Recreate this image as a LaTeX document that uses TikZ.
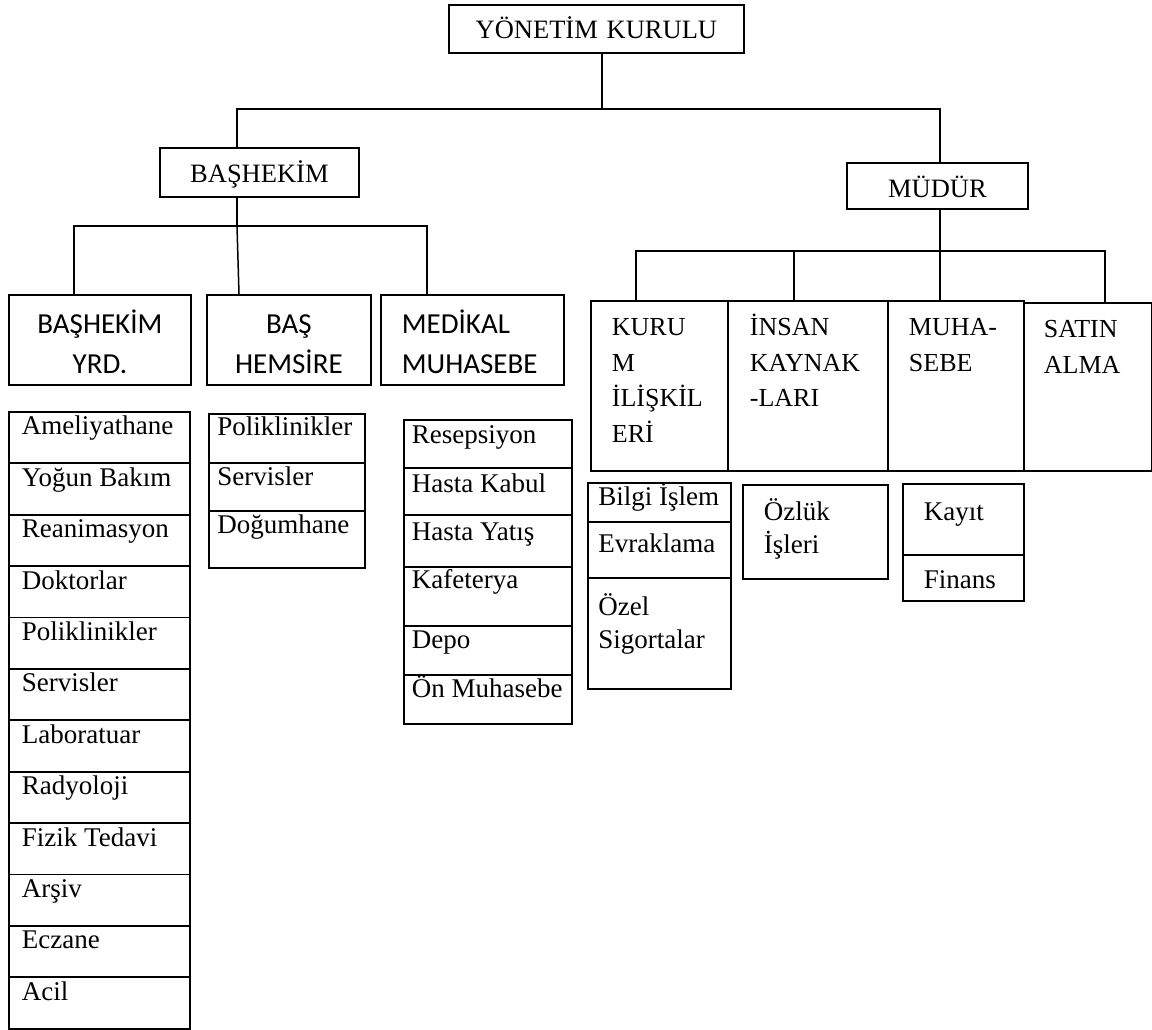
\documentclass[tikz,border=0pt]{standalone}
\usepackage{fontspec}
\setmainfont{Liberation Serif}
\newfontfamily\calfont{Carlito}
\usepackage{tikz}

\begin{document}
\begin{tikzpicture}[x=1pt,y=-1pt]
\tikzstyle{every node}+=[inner sep=0pt, anchor=north west]
\tikzstyle{box}=[draw, line width=1.8pt]
\tikzstyle{ttl}=[box, align=center, font=\fontsize{26.5}{32}\selectfont]
\tikzstyle{cal}=[box, font=\calfont\fontsize{29}{40}\selectfont]
\tikzstyle{mtn}=[box, align=flush left, font=\fontsize{26}{35.5}\selectfont]
\tikzstyle{lst}=[box, align=flush left, font=\fontsize{27}{33}\selectfont]
\tikzstyle{con}=[line width=1.5pt]
\useasboundingbox (0,0) rectangle (1152,1029);
\node [ttl, text width=295pt, text height=34pt, text depth=14pt] (yk) at (448,4) {YÖNETİM KURULU};
\node [ttl, text width=199pt, text height=35pt, text depth=14pt] (bh) at (159,147) {BAŞHEKİM};
\node [ttl, text width=181pt, text height=35pt, text depth=11pt] (mu) at (846,162) {MÜDÜR};
\node [cal, align=center, text width=182pt, text height=39pt, text depth=51pt] (by) at (8,294) {BAŞHEKİM\\YRD.};
\node [cal, align=center, text width=164pt, text height=39pt, text depth=51pt] (hs) at (206,294) {BAŞ\\HEMSİRE};
\node [cal, align=flush left, inner xsep=21pt, text width=141pt, text height=39pt, text depth=51pt] (mm) at (380,294) {MEDİKAL\\MUHASEBE};
\node [mtn, inner xsep=21pt, text width=95pt, text height=35pt, text depth=135pt] (km) at (590,300) {KURU\\M\\İLİŞKİL\\ERİ};
\node [mtn, inner xsep=22pt, text width=116pt, text height=35pt, text depth=135pt] (ik) at (727,300) {İNSAN\\KAYNAK\\-LARI};
\node [mtn, inner xsep=21pt, text width=94pt, text height=35pt, text depth=135pt] (mh) at (887,300) {MUHA-\\SEBE};
\node [mtn, inner xsep=20pt, text width=88pt, text height=35pt, text depth=133pt] (sa) at (1023,302) {SATIN\\ALMA};
\node [lst, inner xsep=13pt, text width=155pt, text height=23pt, text depth=28.4pt] (ameli) at (8,411) {Ameliyathane};
\node [lst, inner xsep=13pt, text width=155pt, text height=23pt, text depth=28.4pt] (yogun) at (8,462.4) {Yoğun~Bakım};
\node [lst, inner xsep=13pt, text width=155pt, text height=23pt, text depth=28.4pt] (reani) at (8,513.8) {Reanimasyon};
\node [lst, inner xsep=13pt, text width=155pt, text height=23pt, text depth=28.4pt] (dokt) at (8,565.2) {Doktorlar};
\node [lst, inner xsep=13pt, text width=155pt, text height=23pt, text depth=28.4pt] (polia) at (8,616.6) {Poliklinikler};
\node [lst, inner xsep=13pt, text width=155pt, text height=23pt, text depth=28.4pt] (serva) at (8,668) {Servisler};
\node [lst, inner xsep=13pt, text width=155pt, text height=23pt, text depth=28.4pt] (lab) at (8,719.4) {Laboratuar};
\node [lst, inner xsep=13pt, text width=155pt, text height=23pt, text depth=28.4pt] (rad) at (8,770.8) {Radyoloji};
\node [lst, inner xsep=13pt, text width=155pt, text height=23pt, text depth=28.4pt] (fizik) at (8,822.2) {Fizik~Tedavi};
\node [lst, inner xsep=13pt, text width=155pt, text height=23pt, text depth=28.4pt] (arsiv) at (8,873.6) {Arşiv};
\node [lst, inner xsep=13pt, text width=155pt, text height=23pt, text depth=28.4pt] (eczane) at (8,925) {Eczane};
\node [lst, inner xsep=13pt, text width=155pt, text height=23pt, text depth=28.4pt] (acil) at (8,976.4) {Acil};
\node [lst, inner xsep=8.5pt, text width=139pt, text height=22pt, text depth=27pt] (polib) at (208,413) {Poliklinikler};
\node [lst, inner xsep=8.5pt, text width=139pt, text height=23pt, text depth=25pt] (servb) at (208,462) {Servisler};
\node [lst, inner xsep=8.5pt, text width=139pt, text height=23pt, text depth=34pt] (dogum) at (208,510) {Doğumhane};
\node [lst, inner xsep=8pt, text width=152pt, text height=24pt, text depth=24pt] (resep) at (403,419) {Resepsiyon};
\node [lst, inner xsep=8pt, text width=152pt, text height=25pt, text depth=22pt] (kabul) at (403,467) {Hasta~Kabul};
\node [lst, inner xsep=8pt, text width=152pt, text height=26pt, text depth=26pt] (yatis) at (403,514) {Hasta~Yatış};
\node [lst, inner xsep=8pt, text width=152pt, text height=22pt, text depth=37pt] (kafe) at (403,566) {Kafeterya};
\node [lst, inner xsep=8pt, text width=152pt, text height=23pt, text depth=26pt] (depo) at (403,625) {Depo};
\node [lst, inner xsep=8pt, text width=152pt, text height=23pt, text depth=26pt] (onmuh) at (403,674) {Ön~Muhasebe};
\node [lst, inner xsep=10.5pt, text width=122pt, text height=23pt, text depth=16pt] (bilgi) at (587,482) {Bilgi~İşlem};
\node [lst, inner xsep=10.5pt, text width=122pt, text height=31pt, text depth=25pt] (evrak) at (587,521) {Evraklama};
\node [lst, inner xsep=10.5pt, text width=122pt, text height=38pt, text depth=73pt] (sigorta) at (587,577) {Özel\\Sigortalar};
\node [lst, inner xsep=21pt, text width=103pt, text height=36pt, text depth=58pt] (ozluk) at (742,484) {Özlük\\İşleri};
\node [lst, inner xsep=21pt, text width=79pt, text height=37pt, text depth=34pt] (kayit) at (902,483) {Kayıt};
\node [lst, inner xsep=21pt, text width=79pt, text height=34pt, text depth=12pt] (finans) at (902,554) {Finans};
\coordinate (j0) at (602,109);
\coordinate (j1) at (237,109);
\coordinate (j2) at (940,109);
\coordinate (j3) at (237,226);
\coordinate (j4) at (74,226);
\coordinate (j5) at (427,226);
\coordinate (j6) at (239,226);
\coordinate (j7) at (940,251);
\coordinate (j8) at (636,251);
\coordinate (j9) at (1105,251);
\coordinate (j10) at (794,251);
\draw [con] (yk.south -| j0) -- (j0);
\draw [con] (bh.north -| j1) -- (j1) -- (j2) -- (mu.north -| j2);
\draw [con] (bh.south -| j3) -- (j3);
\draw [con] (by.north -| j4) -- (j4) -- (j5) -- (mm.north -| j5);
\draw [con] (j3) -- (hs.north -| j6);
\draw [con] (mu.south -| j7) -- (j7);
\draw [con] (km.north -| j8) -- (j8) -- (j9) -- (sa.north -| j9);
\draw [con] (ik.north -| j10) -- (j10);
\draw [con] (mh.north -| j7) -- (j7);
\end{tikzpicture}
\end{document}
